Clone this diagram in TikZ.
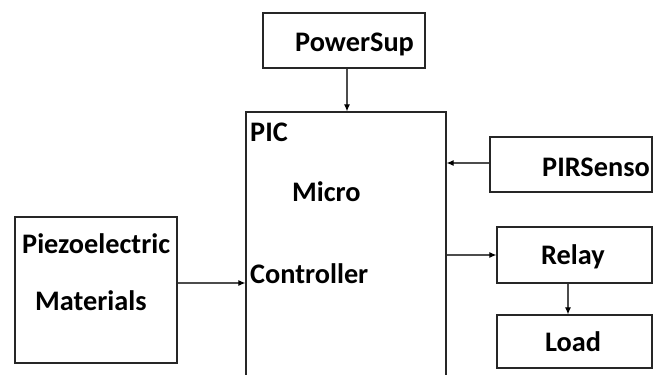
\documentclass[tikz,border=0pt]{standalone}
\usepackage{fontspec}
\setmainfont{Carlito}
\usetikzlibrary{arrows.meta}
\begin{document}
\begin{tikzpicture}[x=1pt,y=-1pt,
  box/.style={draw=black!85, line width=1.2pt, rectangle, inner sep=0pt},
  lbl/.style={font=\bfseries\fontsize{28.3}{32}\selectfont, inner sep=0pt, anchor=base west},
  conn/.style={line width=1.1pt, draw=black!70, -{Latex[length=7pt,width=6pt,color=black]}}]
\useasboundingbox (0,0) rectangle (657,375);
% boxes
\node[box, minimum width=162pt, minimum height=55pt] (pwr) at (344,40.5) {};
\node[box, minimum width=200pt, minimum height=265pt] (pic) at (346,244.5) {};
\node[box, minimum width=162pt, minimum height=55pt] (pir) at (571,164.5) {};
\node[box, minimum width=155pt, minimum height=56pt] (relay) at (574.5,255) {};
\node[box, minimum width=155pt, minimum height=53pt] (load) at (574.5,341.5) {};
\node[box, minimum width=162pt, minimum height=146pt] (piezo) at (96,290) {};
% labels
\node[lbl] (tpwr) at (295,51.7) {PowerSup};
\node[lbl] (tpic) at (250,141.7) {PIC};
\node[lbl] (tmicro) at (292,201.7) {Micro};
\node[lbl] (tctrl) at (250,283) {Controller};
\node[lbl] (tpir) at (542,176) {PIRSenso};
\node[lbl] (trelay) at (541,264) {Relay};
\node[lbl] (tload) at (545,351.7) {Load};
\node[lbl] (tpiezo) at (22,253) {Piezoelectric};
\node[lbl] (tmat) at (35,310) {Materials};
% connectors
\draw[conn] ([xshift=3pt]pwr.south) -- ([xshift=3pt]pwr.south |- pic.north);
\draw[conn] ([yshift=1.5pt]pir.west) -- ([yshift=1.5pt]pir.west -| pic.east);
\draw[conn] (relay.west -| pic.east) -- (relay.west);
\draw[conn] ([xshift=-6.5pt]relay.south) -- ([xshift=-6.5pt]load.north);
\draw[conn] ([yshift=7pt]piezo.east) -- ([yshift=7pt]piezo.east -| pic.west);
\end{tikzpicture}
\end{document}
